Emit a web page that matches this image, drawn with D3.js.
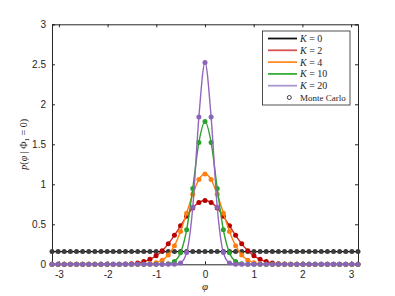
<!DOCTYPE html>
<html>
<head>
<meta charset="utf-8">
<script src="https://cdn.jsdelivr.net/npm/d3@7"></script>
<style>
  body { margin: 0; background: #fff; }
  svg { display: block; }
  .tick text { font-family: "Liberation Sans", Arial, sans-serif; font-size: 10px; fill: #262626; }
  .serif { font-family: "Liberation Serif", "DejaVu Serif", serif; fill: #262626; }
</style>
</head>
<body>
<script>
// x positions of the Monte Carlo bins, k*pi/25 for k=-25..25
const phiSteps = [-25,-24,-23,-22,-21,-20,-19,-18,-17,-16,-15,-14,-13,-12,-11,-10,-9,-8,-7,-6,-5,-4,-3,-2,-1,
                  0,1,2,3,4,5,6,7,8,9,10,11,12,13,14,15,16,17,18,19,20,21,22,23,24,25];
const phi = phiSteps.map(k => k * Math.PI / 25);

// densities (symmetric round 0)
const pK0 = [0.159,0.159,0.159,0.159,0.159,0.159,0.159,0.159,0.159,0.159,0.159,0.159,0.159,0.159,0.159,0.159,0.159,0.159,0.159,0.159,0.159,0.159,0.159,0.159,0.159,
             0.159,0.159,0.159,0.159,0.159,0.159,0.159,0.159,0.159,0.159,0.159,0.159,0.159,0.159,0.159,0.159,0.159,0.159,0.159,0.159,0.159,0.159,0.159,0.159,0.159,0.159];
const pK2 = [0,0,0,0,0,0,0,0,0,0,0.001,0.002,0.004,0.008,0.017,0.034,0.062,0.106,0.170,0.256,0.362,0.481,0.600,0.703,0.773,
             0.798,0.773,0.703,0.600,0.481,0.362,0.256,0.170,0.106,0.062,0.034,0.017,0.008,0.004,0.002,0.001,0,0,0,0,0,0,0,0,0,0];
const pK4 = [0,0,0,0,0,0,0,0,0,0,0,0,0,0,0,0.002,0.007,0.020,0.051,0.116,0.233,0.411,0.639,0.876,1.059,
             1.128,1.059,0.876,0.639,0.411,0.233,0.116,0.051,0.020,0.007,0.002,0,0,0,0,0,0,0,0,0,0,0,0,0,0,0];
const pK10 = [0,0,0,0,0,0,0,0,0,0,0,0,0,0,0,0,0,0,0.001,0.006,0.034,0.143,0.431,0.949,1.523,
              1.784,1.523,0.949,0.431,0.143,0.034,0.006,0.001,0,0,0,0,0,0,0,0,0,0,0,0,0,0,0,0,0,0];
const pK20 = [0,0,0,0,0,0,0,0,0,0,0,0,0,0,0,0,0,0,0,0,0.001,0.016,0.147,0.713,1.840,
              2.523,1.840,0.713,0.147,0.016,0.001,0,0,0,0,0,0,0,0,0,0,0,0,0,0,0,0,0,0,0,0];

const kLabels = ['0', '2', '4', '10', '20'];
const series = [pK0, pK2, pK4, pK10, pK20];
const lineColors = ['#000000', '#cc2a2a', '#ff7f0e', '#2ca02c', '#9467bd'];
const dotColors = ['#3c3c3c', '#b80000', '#ff7f0e', '#2ca02c', '#8a64b8'];
const legColors = ['#111111', '#d65454', '#ff8c2a', '#3aac3a', '#ab97cf'];

const xTicks = [-3, -2, -1, 0, 1, 2, 3];
const yTicks = [0, 0.5, 1, 1.5, 2, 2.5, 3];

const W = 395, H = 296;
const axLeft = 52, axRight = 358, axTop = 24.3, axBottom = 264.3;

const svg = d3.select('body').append('svg')
              .attr('width', W)
              .attr('height', H);

const x = d3.scaleLinear().domain([-Math.PI, Math.PI]).range([axLeft, axRight]);
const y = d3.scaleLinear().domain([0, 3]).range([axBottom, axTop]);

// axes, MATLAB style: ticks pointing in, box on
const axColor = '#262626';
const gx = svg.append('g').attr('transform', `translate(0,${axBottom})`)
              .call(d3.axisBottom(x).tickValues(xTicks).tickSize(-3).tickPadding(7).tickFormat(d => String(d)));
const gxt = svg.append('g').attr('transform', `translate(0,${axTop})`)
               .call(d3.axisTop(x).tickValues(xTicks).tickSize(-3).tickFormat(''));
const gy = svg.append('g').attr('transform', `translate(${axLeft},0)`)
              .call(d3.axisLeft(y).tickValues(yTicks).tickSize(-3).tickPadding(6).tickFormat(d => String(d)));
const gyr = svg.append('g').attr('transform', `translate(${axRight},0)`)
               .call(d3.axisRight(y).tickValues(yTicks).tickSize(-3).tickFormat(''));
[gx, gxt, gy, gyr].forEach(g => {
  g.select('.domain').attr('stroke', axColor).attr('stroke-width', 1);
  g.selectAll('.tick line').attr('stroke', axColor);
});

const line = d3.line()
               .x((d, i) => x(phi[i]))
               .y(d => y(d))
               .curve(d3.curveMonotoneX);

const plot = svg.append('g');
series.forEach((s, j) => {
  plot.append('path')
      .attr('d', line(s))
      .attr('fill', 'none')
      .attr('stroke', lineColors[j])
      .attr('stroke-width', 1.4);
  plot.selectAll(null)
      .data(s)
      .enter()
      .append('circle')
      .attr('cx', (d, i) => x(phi[i]))
      .attr('cy', d => y(d))
      .attr('r', 2.5)
      .attr('fill', dotColors[j]);
});

// axis labels
svg.append('text')
   .attr('class', 'serif')
   .attr('x', x(0))
   .attr('y', 290)
   .attr('text-anchor', 'middle')
   .attr('font-size', 11)
   .attr('font-style', 'italic')
   .text('φ');

const ylab = svg.append('text')
   .attr('class', 'serif')
   .attr('transform', `translate(27,${(axTop + axBottom) / 2}) rotate(-90)`)
   .attr('text-anchor', 'middle')
   .attr('font-size', 10);
ylab.append('tspan').attr('font-style', 'italic').text('p');
ylab.append('tspan').text('(');
ylab.append('tspan').attr('font-style', 'italic').text('φ');
ylab.append('tspan').text(' | Φ');
ylab.append('tspan').attr('font-size', 7).attr('dy', 2).text('1');
ylab.append('tspan').attr('dy', -2).text(' = 0)');

// legend
const leg = svg.append('g');
leg.append('rect')
   .attr('x', 262.5).attr('y', 31)
   .attr('width', 87.5).attr('height', 74)
   .attr('fill', '#fff')
   .attr('stroke', '#262626')
   .attr('stroke-width', 0.8);
const rowY = i => 38.5 + i * 11.8;
kLabels.forEach((k, i) => {
  leg.append('line')
     .attr('x1', 268).attr('x2', 297)
     .attr('y1', rowY(i)).attr('y2', rowY(i))
     .attr('stroke', legColors[i])
     .attr('stroke-width', 1.8);
  const t = leg.append('text')
     .attr('class', 'serif')
     .attr('x', 300).attr('y', rowY(i) + 3.5)
     .attr('font-size', 10);
  t.append('tspan').attr('font-style', 'italic').text('K');
  t.append('tspan').text(' = ' + k);
});
leg.append('circle')
   .attr('cx', 289.3).attr('cy', rowY(5))
   .attr('r', 2)
   .attr('fill', 'none')
   .attr('stroke', '#262626')
   .attr('stroke-width', 0.9);
leg.append('text')
   .attr('class', 'serif')
   .attr('x', 300).attr('y', rowY(5) + 3)
   .attr('font-size', 9)
   .text('Monte Carlo');
</script>
</body>
</html>
